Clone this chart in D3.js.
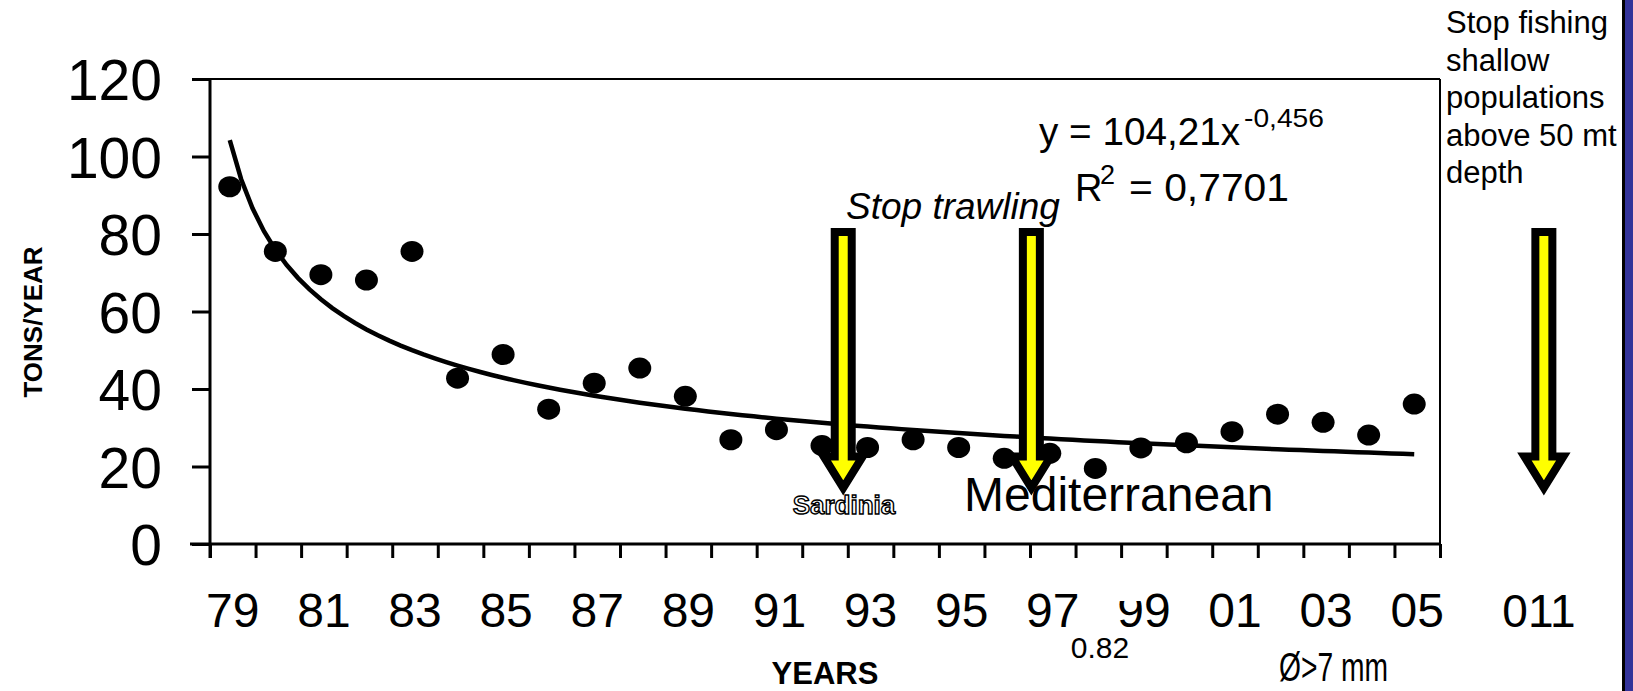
<!DOCTYPE html>
<html>
<head>
<meta charset="utf-8">
<script src="https://cdnjs.cloudflare.com/ajax/libs/d3/7.8.5/d3.min.js"></script>
<style>
  html, body { margin: 0; padding: 0; background: #fff; }
  svg { display: block; }
  text { font-family: "Liberation Sans", Arial, sans-serif; fill: #000; }
</style>
</head>
<body>
<svg id="chart" width="1633" height="691"></svg>
<script>
// ---------------- data ----------------
const years = ["79","80","81","82","83","84","85","86","87","88","89","90","91","92","93","94","95","96","97","98","99","00","01","02","03","04","05"];
const tons = [92.2, 75.5, 69.5, 68.1, 75.5, 42.8, 48.9, 34.8, 41.5, 45.4, 38.1, 26.9, 29.5, 25.4, 24.9, 26.9, 24.9, 22.1, 23.4, 19.5, 24.8, 26.1, 29.0, 33.5, 31.4, 28.1, 36.1];
const yTicks = [0, 20, 40, 60, 80, 100, 120];
const xLabelYears = ["79","81","83","85","87","89","91","93","95","97","99","01","03","05"];
// power trendline shown on the chart: y = 104,21 x^-0,456
const trendA = 104.21;
const trendB = -0.456;
// arrow annotations (position in category units from the axis start)
const arrowPos = [13.9, 18.03, 29.28];
const arrowTop = 80.5, arrowHeadBase = 22.6, arrowTip = 14.5;
const rightNote = ["Stop fishing", "shallow", "populations", "above 50 mt", "depth"];

// ---------------- layout ----------------
const svg = d3.select("#chart");
const L = 210, R = 1440, T = 79, B = 544;
const FONT = "Liberation Sans, Arial, sans-serif";
const NARROW = "'Liberation Sans Narrow', 'Arial Narrow', sans-serif";

const x = d3.scaleBand().domain(years).range([L, R]).paddingInner(0).paddingOuter(0);
const step = x.step();
const xu = d3.scaleLinear().domain([0, years.length]).range([L, R]); // category units
const y = d3.scaleLinear().domain([0, 120]).range([B, T]);

// right blue strip
svg.append("rect").attr("x", 1625).attr("y", 0).attr("width", 8).attr("height", 691).attr("fill", "#333399");
svg.append("rect").attr("x", 1622).attr("y", 0).attr("width", 3).attr("height", 691).attr("fill", "#000");

// plot border (top & right)
svg.append("line").attr("x1", L).attr("x2", R).attr("y1", T).attr("y2", T).attr("stroke", "#000").attr("stroke-width", 2);
svg.append("line").attr("x1", R).attr("x2", R).attr("y1", T).attr("y2", B).attr("stroke", "#000").attr("stroke-width", 2);

// y axis
const yAxis = d3.axisLeft(y).tickValues(yTicks).tickSize(18).tickPadding(30).tickFormat(d3.format("d"));
const gy = svg.append("g").attr("transform", `translate(${L},0)`).call(yAxis);
gy.select(".domain").remove();
gy.selectAll(".tick line").attr("stroke", "#000").attr("stroke-width", 3);
gy.selectAll(".tick text").attr("font-size", 57).attr("font-family", FONT).attr("fill", "#000").attr("dy", "0.36em");
svg.append("line").attr("x1", L).attr("x2", L).attr("y1", T).attr("y2", B + 14).attr("stroke", "#000").attr("stroke-width", 3);

// x axis: tick marks at category boundaries
const xTickAxis = d3.axisBottom(xu).tickValues(d3.range(0, years.length + 1)).tickSize(14).tickFormat("");
const gxt = svg.append("g").attr("transform", `translate(0,${B})`).call(xTickAxis);
gxt.select(".domain").remove();
gxt.selectAll(".tick line").attr("stroke", "#000").attr("stroke-width", 3);
svg.append("line").attr("x1", L - 20).attr("x2", R).attr("y1", B).attr("y2", B).attr("stroke", "#000").attr("stroke-width", 3);

// x axis labels (every other year)
const xLabAxis = d3.axisBottom(x).tickValues(xLabelYears).tickSize(0).tickPadding(0);
const gxl = svg.append("g").attr("transform", `translate(0,${B})`).call(xLabAxis);
gxl.select(".domain").remove();
gxl.selectAll(".tick text").attr("font-size", 48).attr("font-family", FONT)
  .attr("fill", "#000").attr("dy", null).attr("y", 83);

// white patch clipping top of the first "9" of 99 (as in original)
svg.append("rect").attr("x", 1114).attr("y", 586).attr("width", 28).attr("height", 15).attr("fill", "#fff");

// trend line
const tx = d3.scaleLinear().domain([1, years.length]).range([x(years[0]) + step / 2 - 3, x(years[years.length - 1]) + step / 2 - 3]);
const trendPts = d3.range(1, years.length + 0.001, 0.25).map(t => [tx(t), y(trendA * Math.pow(t, trendB))]);
svg.append("path").attr("d", d3.line()(trendPts)).attr("fill", "none").attr("stroke", "#000").attr("stroke-width", 4.5);

// data points
svg.append("g").selectAll("ellipse").data(tons).join("ellipse")
  .attr("cx", (d, i) => x(years[i]) + step / 2 - 3)
  .attr("cy", d => y(d))
  .attr("rx", 11.5).attr("ry", 10.5).attr("fill", "#000");

// arrows
const hw = 8.5, hh = 19.5;
arrowPos.forEach(u => {
  const cx = xu(u);
  const yt = y(arrowTop), yb = y(arrowHeadBase), yp = y(arrowTip);
  const pts = [[cx - hw, yt], [cx + hw, yt], [cx + hw, yb], [cx + hh, yb], [cx, yp], [cx - hh, yb], [cx - hw, yb]];
  svg.append("polygon").attr("points", pts.map(p => p.join(",")).join(" "))
    .attr("fill", "#ffff00").attr("stroke", "#000").attr("stroke-width", 8).attr("stroke-linejoin", "miter").attr("stroke-miterlimit", 10);
});

// axis titles
svg.append("text").attr("transform", "translate(42,322) rotate(-90)").attr("text-anchor", "middle")
  .attr("font-size", 26).attr("font-weight", "bold").text("TONS/YEAR");
svg.append("text").attr("x", 825).attr("y", 684).attr("text-anchor", "middle")
  .attr("font-size", 31).attr("font-weight", "bold").text("YEARS");

// annotations
svg.append("text").attr("x", 846).attr("y", 219).attr("font-size", 37).attr("font-style", "italic").text("Stop trawling");

svg.append("text").attr("x", 1039).attr("y", 145).attr("font-size", 38)
  .attr("textLength", 201).attr("lengthAdjust", "spacingAndGlyphs").text("y = 104,21x");
svg.append("text").attr("x", 1244).attr("y", 127).attr("font-size", 26)
  .attr("textLength", 80).attr("lengthAdjust", "spacingAndGlyphs").text("-0,456");
svg.append("text").attr("x", 1075).attr("y", 201).attr("font-size", 38).text("R");
svg.append("text").attr("x", 1100).attr("y", 184).attr("font-size", 27).text("2");
svg.append("text").attr("x", 1129).attr("y", 201).attr("font-size", 38)
  .attr("textLength", 160).attr("lengthAdjust", "spacingAndGlyphs").text("= 0,7701");

svg.append("text").attr("x", 844).attr("y", 514).attr("text-anchor", "middle")
  .attr("font-size", 26).attr("font-weight", "bold")
  .attr("stroke", "#000").attr("stroke-width", 1.4).style("fill", "#fff").text("Sardinia");
svg.append("text").attr("x", 964).attr("y", 511).attr("font-size", 48).text("Mediterranean");

const rn = svg.append("text").attr("x", 1446).attr("y", 33).attr("font-size", 31);
rightNote.forEach((s, i) => rn.append("tspan").attr("x", 1446).attr("dy", i === 0 ? 0 : 37.5).text(s));

svg.append("text").attr("x", 1100).attr("y", 658).attr("text-anchor", "middle").attr("font-size", 30).text("0.82");
svg.append("text").attr("x", 1279).attr("y", 681).attr("font-size", 41)
  .attr("textLength", 109).attr("lengthAdjust", "spacingAndGlyphs")
  .style("font-family", NARROW).text("Ø>7 mm");
svg.append("text").attr("x", 1539).attr("y", 627).attr("font-size", 46).attr("text-anchor", "middle")
  .style("font-family", NARROW).text("011");
</script>
</body>
</html>
